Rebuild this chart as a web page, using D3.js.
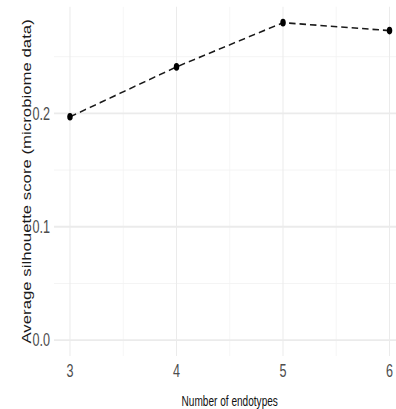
<!DOCTYPE html>
<html>
<head>
<meta charset="utf-8">
<script src="https://cdn.jsdelivr.net/npm/d3@7"></script>
<style>
html,body{margin:0;padding:0;background:#fff;}
svg{display:block;}
</style>
</head>
<body>
<script>
const endotypes = [3, 4, 5, 6];
const silhouette = [0.197, 0.241, 0.280, 0.273];
const xTicks = [3, 4, 5, 6];
const xMinor = [3.5, 4.5, 5.5];
const yTicks = [0.0, 0.1, 0.2];
const yMinor = [0.05, 0.15, 0.25];
const xTitle = "Number of endotypes";
const yTitle = "Average silhouette score (microbiome data)";

const outW = 396, outH = 409;
const sx = 0.72;               // horizontal squash of the original image
const W = outW / sx, H = outH;

const svg = d3.select("body").append("svg")
  .attr("width", outW).attr("height", outH)
  .attr("viewBox", `0 0 ${W} ${H}`)
  .attr("preserveAspectRatio", "none");

const x = d3.scaleLinear().domain([2.85, 6.15]).range([75, 563.2]);
const y = d3.scaleLinear().domain([-0.014, 0.294]).range([356, 6.8]);

const font = "'Liberation Sans', Arial, sans-serif";
const [x0, x1] = x.range();
const [y0, y1] = y.range();

// minor grid
svg.append("g").selectAll("line.vminor").data(xMinor).join("line")
  .attr("x1", d => x(d)).attr("x2", d => x(d)).attr("y1", y0).attr("y2", y1)
  .attr("stroke", "#f2f2f2").attr("stroke-width", 0.8);
svg.append("g").selectAll("line.hminor").data(yMinor).join("line")
  .attr("x1", x0).attr("x2", x1).attr("y1", d => y(d)).attr("y2", d => y(d))
  .attr("stroke", "#f2f2f2").attr("stroke-width", 1);
// major grid
svg.append("g").selectAll("line.vmajor").data(xTicks).join("line")
  .attr("x1", d => x(d)).attr("x2", d => x(d)).attr("y1", y0).attr("y2", y1)
  .attr("stroke", "#ebebeb").attr("stroke-width", 1.4);
svg.append("g").selectAll("line.hmajor").data(yTicks).join("line")
  .attr("x1", x0).attr("x2", x1).attr("y1", d => y(d)).attr("y2", d => y(d))
  .attr("stroke", "#ebebeb").attr("stroke-width", 1.8);

// tick labels
svg.append("g").selectAll("text").data(yTicks).join("text")
  .attr("x", 69.5).attr("y", d => y(d)).attr("dy", "0.36em")
  .attr("text-anchor", "end")
  .attr("font-family", font).attr("font-size", 17.5).attr("fill", "#4d4d4d")
  .text(d => d3.format(".1f")(d));
svg.append("g").selectAll("text").data(xTicks).join("text")
  .attr("x", d => x(d)).attr("y", 377.5)
  .attr("text-anchor", "middle")
  .attr("font-family", font).attr("font-size", 17.5).attr("fill", "#4d4d4d")
  .text(d => d);

// titles
svg.append("text")
  .attr("x", (x0 + x1) / 2).attr("y", 405.8)
  .attr("text-anchor", "middle")
  .attr("font-family", font).attr("font-size", 14).attr("fill", "#111")
  .text(xTitle);
svg.append("text")
  .attr("transform", `translate(43,${(y0 + y1) / 2}) rotate(-90)`)
  .attr("text-anchor", "middle")
  .attr("font-family", font).attr("font-size", 16.8).attr("fill", "#1a1a1a")
  .text(yTitle);

// line + points
const data = endotypes.map((e, i) => ({e, v: silhouette[i]}));
svg.append("path").datum(data)
  .attr("d", d3.line().x(d => x(d.e)).y(d => y(d.v)))
  .attr("fill", "none").attr("stroke", "#1a1a1a")
  .attr("stroke-width", 1.6).attr("stroke-dasharray", "9,5.5");
svg.append("g").selectAll("circle").data(data).join("circle")
  .attr("cx", d => x(d.e)).attr("cy", d => y(d.v)).attr("r", 3.8)
  .attr("fill", "#000");
</script>
</body>
</html>
